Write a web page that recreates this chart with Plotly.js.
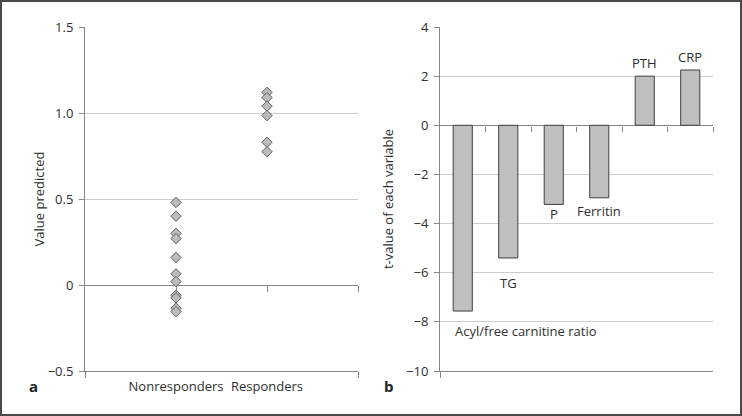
<!DOCTYPE html>
<html><head><meta charset="utf-8">
<script src="https://cdn.plot.ly/plotly-3.0.1.min.js"></script>
<style>
html,body{margin:0;padding:0;background:#fff;}
#wrap{position:relative;width:742px;height:416px;}
#chart{position:absolute;left:0;top:0;width:742px;height:416px;}
#frame{position:absolute;left:0;top:0;width:742px;height:416px;box-sizing:border-box;border:2px solid #4a4a4a;pointer-events:none;}
</style></head>
<body><div id="wrap"><div id="chart"></div><div id="frame"></div></div>
<script>
// Panel a data
const groups = ['Nonresponders', 'Responders'];
const nonresponders = [0.48, 0.40, 0.30, 0.27, 0.16, 0.065, 0.02, -0.06, -0.075, -0.135, -0.155];
const responders = [1.12, 1.09, 1.04, 0.985, 0.83, 0.775];
const yTicksA = [-0.5, 0, 0.5, 1.0, 1.5];
const yTickTextA = ['\u22120.5', '0', '0.5', '1.0', '1.5'];

// Panel b data
const variables = ['Acyl/free carnitine ratio', 'TG', 'P', 'Ferritin', 'PTH', 'CRP'];
const tValues = [-7.56, -5.40, -3.22, -2.95, 2.00, 2.25];
const yTicksB = [-10, -8, -6, -4, -2, 0, 2, 4];
const yTickTextB = ['\u221210', '\u22128', '\u22126', '\u22124', '\u22122', '0', '2', '4'];

// label placement (pixel offsets from bar ends)
const labelShift = [-20, -25, -10, -13, 13, 13];

const FONT = '"Open Sans", "Noto Sans", sans-serif';
const TXT = '#2e2e2e';
const AX = '#868686';
const GRID = '#cdcdcd';

const idxB = variables.map((v, i) => i);

function emptyTrace(xa, ya) {
  return {type: 'scatter', mode: 'markers', x: [], y: [], xaxis: xa, yaxis: ya, hoverinfo: 'skip', showlegend: false};
}

const traces = [
  {
    type: 'scatter', mode: 'markers', xaxis: 'x', yaxis: 'y',
    x: nonresponders.map(() => 1), y: nonresponders,
    marker: {symbol: 'diamond', size: 8, color: '#bcbcbc', line: {color: '#5f5f5f', width: 1}},
    hoverinfo: 'y', showlegend: false
  },
  {
    type: 'scatter', mode: 'markers', xaxis: 'x', yaxis: 'y',
    x: responders.map(() => 2), y: responders,
    marker: {symbol: 'diamond', size: 8, color: '#bcbcbc', line: {color: '#5f5f5f', width: 1}},
    hoverinfo: 'y', showlegend: false
  },
  {
    type: 'bar', xaxis: 'x2', yaxis: 'y2',
    x: idxB, y: tValues, text: variables, textposition: 'none',
    marker: {color: '#bfbfbf', line: {color: '#3f3f3f', width: 1}},
    hoverinfo: 'text+y', showlegend: false
  },
  emptyTrace('x3', 'y'),
  emptyTrace('x4', 'y'),
  emptyTrace('x5', 'y2')
];

const yDom = [45/416, 389/416];
const annotations = variables.map((v, i) => ({
  xref: 'x2', yref: 'y2',
  x: i === 0 ? i - 0.22 : i, y: tValues[i],
  xanchor: i === 0 ? 'left' : 'center', yanchor: 'middle',
  yshift: labelShift[i],
  text: v, showarrow: false,
  font: {family: FONT, size: 13, color: TXT}
}));
annotations.push(
  {xref: 'paper', yref: 'paper', x: 33/742, y: (416-386)/416, text: '<b>a</b>', showarrow: false,
   xanchor: 'center', yanchor: 'middle', font: {family: FONT, size: 15, color: '#222'}},
  {xref: 'paper', yref: 'paper', x: 389/742, y: (416-386)/416, text: '<b>b</b>', showarrow: false,
   xanchor: 'center', yanchor: 'middle', font: {family: FONT, size: 15, color: '#222'}}
);

const layout = {
  width: 742, height: 416,
  margin: {l: 0, r: 0, t: 0, b: 0},
  paper_bgcolor: '#fff', plot_bgcolor: '#fff',
  font: {family: FONT, size: 13, color: TXT},
  showlegend: false,
  bargap: 0.58,
  // panel a
  xaxis: {
    domain: [85/742, 358/742], range: [0, 3], anchor: 'y',
    tickvals: [0, 3], ticktext: ['', ''], ticks: 'outside', ticklen: 6, tickcolor: AX,
    showline: true, linecolor: AX, linewidth: 1, showgrid: false, zeroline: false,
    fixedrange: true
  },
  xaxis3: {
    overlaying: 'x', anchor: 'y', range: [0, 3],
    tickvals: [1, 2], ticktext: groups, ticks: '', ticklabelstandoff: 6,
    showline: false, showgrid: false, zeroline: false,
    tickfont: {family: FONT, size: 13, color: TXT}
  },
  xaxis4: {
    overlaying: 'x', anchor: 'free', position: (416-285)/416, range: [0, 3],
    tickvals: [1, 2, 3], ticktext: ['', '', ''], ticks: 'outside', ticklen: 6, tickcolor: AX, showticklabels: false,
    showline: false, showgrid: false, zeroline: false
  },
  yaxis: {
    domain: yDom, range: [-0.5, 1.5], anchor: 'x',
    tickvals: yTicksA, ticktext: yTickTextA,
    ticks: 'outside', ticklen: 5, tickcolor: AX, ticklabelstandoff: 3,
    showline: true, linecolor: AX, linewidth: 1,
    showgrid: true, gridcolor: GRID, gridwidth: 1,
    zeroline: true, zerolinecolor: AX, zerolinewidth: 1,
    tickfont: {family: FONT, size: 13, color: TXT},
    title: {text: 'Value predicted', standoff: 0, font: {family: FONT, size: 13, color: TXT}}
  },
  // panel b
  xaxis2: {
    domain: [440/742, 713/742], range: [-0.5, 5.5], anchor: 'y2',
    tickvals: [-0.5], ticktext: [''], ticks: 'outside', ticklen: 6, tickcolor: AX,
    showline: true, linecolor: AX, linewidth: 1, showgrid: false, zeroline: false
  },
  xaxis5: {
    overlaying: 'x2', anchor: 'free', position: (416-125.7)/416, range: [-0.5, 5.5],
    tickvals: [0.5, 1.5, 2.5, 3.5, 4.5, 5.5], ticktext: ['', '', '', '', '', ''], ticks: 'outside', ticklen: 5, tickcolor: AX,
    showticklabels: false, showline: false, showgrid: false, zeroline: false
  },
  yaxis2: {
    domain: yDom, range: [-10, 4], anchor: 'x2',
    tickvals: yTicksB, ticktext: yTickTextB,
    ticks: 'outside', ticklen: 5, tickcolor: AX, ticklabelstandoff: 3,
    showline: true, linecolor: AX, linewidth: 1,
    showgrid: true, gridcolor: GRID, gridwidth: 1,
    zeroline: true, zerolinecolor: AX, zerolinewidth: 1,
    tickfont: {family: FONT, size: 13, color: TXT},
    title: {text: 't-value of each variable', standoff: 9, font: {family: FONT, size: 13, color: TXT}}
  },
  annotations: annotations
};

Plotly.newPlot('chart', traces, layout, {displayModeBar: false, staticPlot: true});
</script>
</body></html>
